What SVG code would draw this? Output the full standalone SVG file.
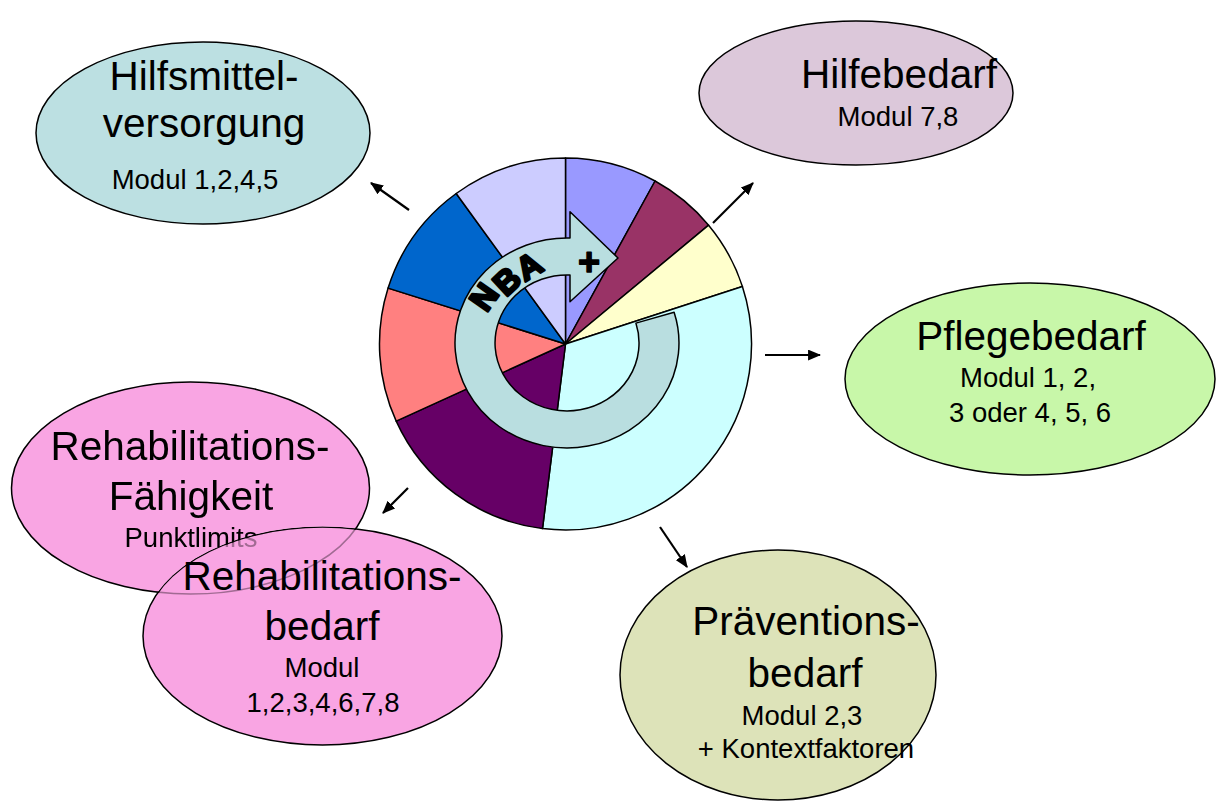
<svg xmlns="http://www.w3.org/2000/svg" width="1216" height="803" viewBox="0 0 1216 803">
  <defs>
    <style>
      .node { stroke: #000; stroke-width: 1.5; }
      .big { font-family: "Liberation Sans", Arial, sans-serif; font-size: 40.5px; fill: #000; text-anchor: middle; }
      .small { font-family: "Liberation Sans", Arial, sans-serif; font-size: 27.5px; fill: #000; text-anchor: middle; }
      .slice { stroke: #000; stroke-width: 1.5; stroke-linejoin: round; }
      .conn { stroke: #000; stroke-width: 2.2; fill: none; marker-end: url(#head); }
      .nba { font-family: "Liberation Sans", Arial, sans-serif; font-weight: bold; font-size: 33px; fill: #000; stroke: #000; stroke-width: 2.6; stroke-linejoin: round; text-anchor: middle; dominant-baseline: central; }
    </style>
    <marker id="head" viewBox="0 0 12 10" refX="11" refY="5" markerWidth="13" markerHeight="11" markerUnits="userSpaceOnUse" orient="auto">
      <path d="M0,0 L12,5 L0,10 z" fill="#000"/>
    </marker>
    <!-- the "Rehabilitationsbedarf" ellipse sits above "Rehabilitations-Fähigkeit":
         the lower fill is hidden there, its outline and label show through faintly -->
    <mask id="under-fill" maskUnits="userSpaceOnUse" x="0" y="0" width="1216" height="803">
      <rect width="1216" height="803" fill="#fff"/>
      <ellipse cx="322.5" cy="636" rx="180" ry="109.5" fill="#000"/>
    </mask>
    <mask id="under-line" maskUnits="userSpaceOnUse" x="0" y="0" width="1216" height="803">
      <rect width="1216" height="803" fill="#fff"/>
      <ellipse cx="322.5" cy="636" rx="178.7" ry="108.2" fill="#5a5a5a"/>
    </mask>
  </defs>

  <rect width="1216" height="803" fill="#fff"/>

  <!-- outer ellipses -->
  <g id="hilfsmittel">
    <ellipse class="node" cx="203" cy="133" rx="167" ry="91" fill="#BCE0E2"/>
    <text class="big" x="204" y="90">Hilfsmittel-</text>
    <text class="big" x="204" y="137">versorgung</text>
    <text class="small" x="195" y="189">Modul 1,2,4,5</text>
  </g>

  <g id="hilfebedarf">
    <ellipse class="node" cx="856" cy="93" rx="157" ry="72" fill="#DCC8DA"/>
    <text class="big" x="899" y="88">Hilfebedarf</text>
    <text class="small" x="898" y="126">Modul 7,8</text>
  </g>

  <g id="pflegebedarf">
    <ellipse class="node" cx="1030" cy="379" rx="185" ry="96" fill="#C8F7A9"/>
    <text class="big" x="1031" y="350">Pflegebedarf</text>
    <text class="small" x="1028" y="387">Modul 1, 2,</text>
    <text class="small" x="1030" y="422">3 oder 4, 5, 6</text>
  </g>

  <g id="praevention">
    <ellipse class="node" cx="778" cy="675" rx="158" ry="125" fill="#DDE3B9"/>
    <text class="big" x="806" y="635">Präventions-</text>
    <text class="big" x="805" y="687">bedarf</text>
    <text class="small" x="802" y="725">Modul 2,3</text>
    <text class="small" x="806" y="758">+ Kontextfaktoren</text>
  </g>

  <g id="reha-bedarf">
    <ellipse class="node" cx="322.5" cy="636" rx="179.5" ry="109" fill="#F9A5E3"/>
  </g>

  <g id="reha-faehigkeit">
    <ellipse cx="190.5" cy="488" rx="179" ry="106" fill="#F9A5E3" mask="url(#under-fill)"/>
    <g mask="url(#under-line)">
      <ellipse class="node" cx="190.5" cy="488" rx="179" ry="106" fill="none"/>
      <text class="big" x="190" y="460">Rehabilitations-</text>
      <text class="big" x="191" y="510">Fähigkeit</text>
      <text class="small" x="191" y="547">Punktlimits</text>
    </g>
  </g>

  <g id="reha-bedarf-label">
    <text class="big" x="322" y="590">Rehabilitations-</text>
    <text class="big" x="322" y="640">bedarf</text>
    <text class="small" x="322" y="677">Modul</text>
    <text class="small" x="323" y="712">1,2,3,4,6,7,8</text>
  </g>

  <!-- central module pie with NBA arrow -->
  <g id="nba-pie">
    <path class="slice" fill="#9999FF" d="M565.5,344 L565.5,158 A186,186 0 0 1 655.1,181 Z"/>
    <path class="slice" fill="#993366" d="M565.5,344 L655.1,181 A186,186 0 0 1 708.6,225.2 Z"/>
    <path class="slice" fill="#FFFFCC" d="M565.5,344 L708.6,225.2 A186,186 0 0 1 742.4,286.5 Z"/>
    <path class="slice" fill="#CCFFFF" d="M565.5,344 L742.4,286.5 A186,186 0 0 1 542.5,528.6 Z"/>
    <path class="slice" fill="#660066" d="M565.5,344 L542.5,528.6 A186,186 0 0 1 396.2,421.1 Z"/>
    <path class="slice" fill="#FF8080" d="M565.5,344 L396.2,421.1 A186,186 0 0 1 388.1,288.1 Z"/>
    <path class="slice" fill="#0066CC" d="M565.5,344 L388.1,288.1 A186,186 0 0 1 456.2,193.5 Z"/>
    <path class="slice" fill="#CCCCFF" d="M565.5,344 L456.2,193.5 A186,186 0 0 1 565.5,158 Z"/>

    <path class="slice" fill="#B9DEE0" d="M674.1,312.3 A112,105 0 1 1 570,238 L570,211.7 L618,258 L570,301.7 L570,275 A72,68 0 1 0 635.9,323.1 Z"/>

    <text class="nba" transform="translate(484,297) rotate(-55)">N</text>
    <text class="nba" transform="translate(507,281) rotate(-43)">B</text>
    <text class="nba" transform="translate(529,266) rotate(-31)">A</text>
    <text class="nba" x="589" y="262" style="font-size:38px;stroke-width:1.4">+</text>
  </g>

  <!-- connectors -->
  <g id="connectors">
    <line class="conn" x1="409" y1="210" x2="371" y2="183"/>
    <line class="conn" x1="713" y1="223" x2="753" y2="183"/>
    <line class="conn" x1="765" y1="355" x2="820" y2="355"/>
    <line class="conn" x1="660" y1="527" x2="687" y2="567"/>
    <line class="conn" x1="408" y1="488" x2="383" y2="513"/>
  </g>
</svg>
